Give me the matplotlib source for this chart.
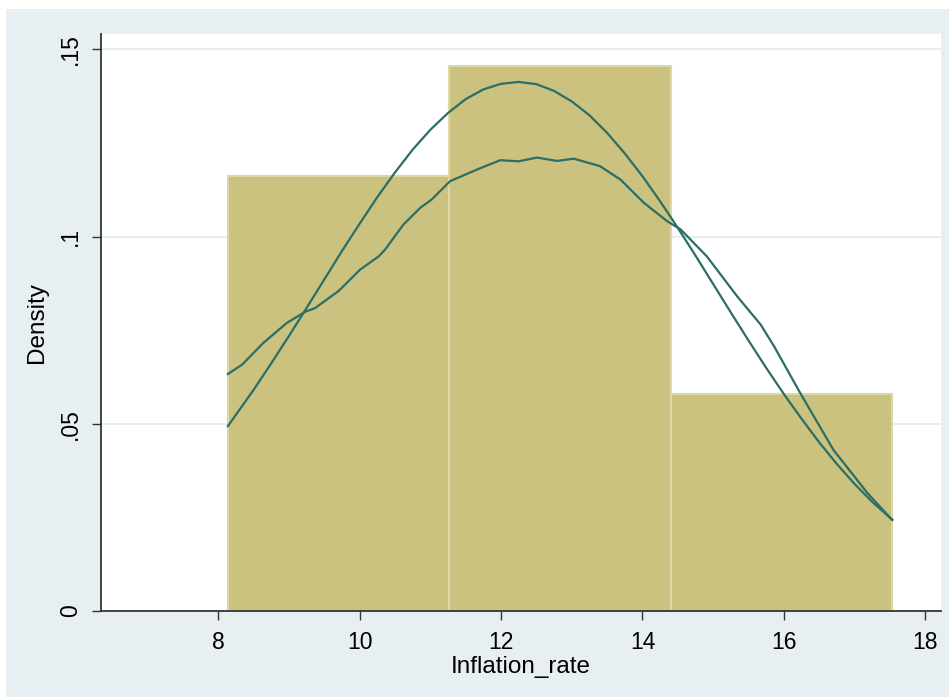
import numpy as np
import matplotlib.pyplot as plt
from matplotlib.patches import Rectangle

plt.rcParams['font.family'] = ['Liberation Sans', 'DejaVu Sans']

# histogram of Inflation_rate (density scale, 3 bins)
bin_edges = [8.14, 11.27, 14.40, 17.53]
bin_density = [0.1162, 0.1455, 0.0580]

# normal density overlay
norm_x = [8.14, 8.5, 8.75, 9.0, 9.25, 9.5, 9.75, 10.0, 10.25, 10.5, 10.75,
          11.0, 11.25, 11.5, 11.75, 12.0, 12.25, 12.5, 12.75, 13.0, 13.25,
          13.5, 13.75, 14.0, 14.25, 14.5, 14.75, 15.0, 15.25, 15.5, 15.75,
          16.0, 16.25, 16.5, 16.75, 17.0, 17.25, 17.53]
norm_y = [0.0494, 0.0590, 0.0661, 0.0734, 0.0809, 0.0885, 0.0961, 0.1034,
          0.1105, 0.1171, 0.1232, 0.1285, 0.1330, 0.1367, 0.1393, 0.1408,
          0.1413, 0.1407, 0.1389, 0.1361, 0.1324, 0.1277, 0.1222, 0.1161,
          0.1094, 0.1023, 0.0949, 0.0873, 0.0797, 0.0722, 0.0649, 0.0579,
          0.0513, 0.0450, 0.0392, 0.0339, 0.0291, 0.0244]

# kernel density overlay
kde_x = [8.14, 8.34, 8.64, 8.97, 9.23, 9.37, 9.70, 10.01, 10.27, 10.36,
         10.62, 10.86, 11.02, 11.28, 11.66, 11.99, 12.25, 12.51, 12.79,
         13.03, 13.40, 13.69, 14.02, 14.35, 14.54, 14.91, 15.34, 15.67,
         15.86, 16.23, 16.70, 17.18, 17.53]
kde_y = [0.0633, 0.0658, 0.0716, 0.0769, 0.0799, 0.0809, 0.0854, 0.0912,
         0.0947, 0.0965, 0.1032, 0.1077, 0.1099, 0.1148, 0.1179, 0.1204,
         0.1201, 0.1211, 0.1202, 0.1208, 0.1188, 0.1152, 0.1090, 0.1041,
         0.1019, 0.0947, 0.0840, 0.0765, 0.0707, 0.0582, 0.0430, 0.0315,
         0.0243]

x_ticks = [8, 10, 12, 14, 16, 18]
y_ticks = [0, 0.05, 0.10, 0.15]
y_tick_labels = ['0', '.05', '.1', '.15']

bg = '#e8eff2'
line_col = '#2b6e67'

fig = plt.figure(figsize=(9.49, 6.99), dpi=100)
fig.patch.set_facecolor('white')
fig.patches.append(Rectangle((6 / 949, 2 / 699), 943 / 949, 688 / 699,
                             transform=fig.transFigure, facecolor=bg,
                             edgecolor='none', zorder=-10))

ax = fig.add_axes([101 / 949, 88 / 699, 840 / 949, 577 / 699])
ax.set_zorder(1)
ax.set_facecolor('white')

widths = np.diff(bin_edges)
ax.bar(bin_edges[:-1], bin_density, width=widths, align='edge',
       color='#cac27e', edgecolor='#dcd7a3', linewidth=1.5, zorder=2)
ax.plot(norm_x, norm_y, color=line_col, lw=1.6, zorder=3)
ax.plot(kde_x, kde_y, color=line_col, lw=1.6, zorder=3)

ax.set_xlim(6.345, 18.22)
ax.set_ylim(0, 0.1541)
ax.set_xticks(x_ticks)
ax.set_yticks(y_ticks)
ax.set_yticklabels(y_tick_labels, rotation=90, va='center')
ax.grid(axis='y', color='#e6eef0', lw=1.5, zorder=1)
ax.set_axisbelow(True)

for s in ['top', 'right']:
    ax.spines[s].set_visible(False)
for s in ['left', 'bottom']:
    ax.spines[s].set_color('#333333')
    ax.spines[s].set_linewidth(1.3)

ax.tick_params(axis='both', direction='out', length=6.5, width=1.0,
               color='#333333', labelsize=16.5, labelcolor='black')
ax.tick_params(axis='x', pad=8)
ax.tick_params(axis='y', pad=7)

ax.set_xlabel('Inflation_rate', fontsize=17.5, labelpad=1)
ax.set_ylabel('Density', fontsize=17.5, labelpad=8)

plt.savefig('out.png', dpi=100)
